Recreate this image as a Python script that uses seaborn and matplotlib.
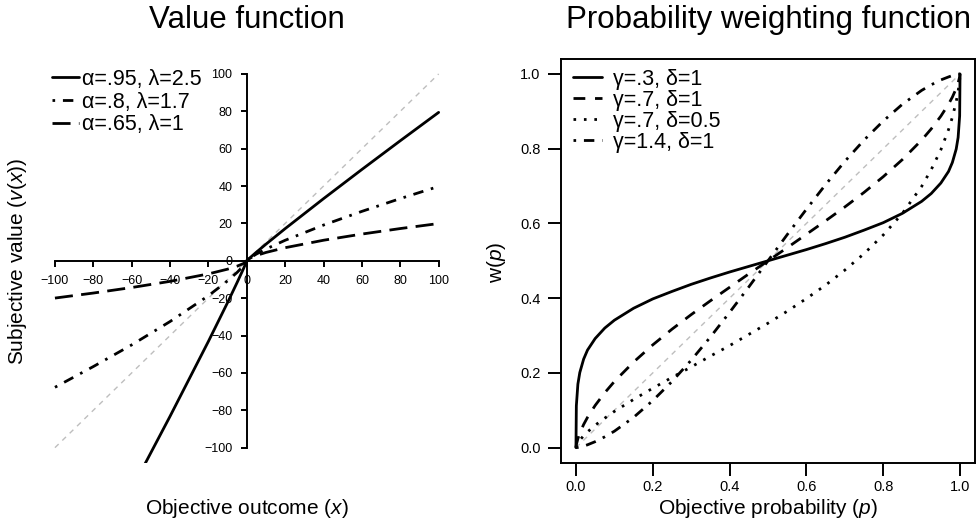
import seaborn as sns
import matplotlib.pyplot as plt
import pandas as pd

# Value function (left panel): outcomes and subjective values
outcome = [-100, -80, -60, -40, -20, -10, -5, -2, -1, 0, 1, 2, 5, 10, 20, 40, 60, 80, 100]
v_a95_l25 = [-198.6, -160.7, -122.2, -83.2, -43.1, -22.3, -11.5, -4.83, -2.5, 0,
             1.0, 1.93, 4.61, 8.91, 17.22, 33.26, 48.89, 64.26, 79.43]
v_a80_l17 = [-67.7, -56.6, -45.0, -32.5, -18.7, -10.7, -6.16, -2.96, -1.7, 0,
             1.0, 1.74, 3.62, 6.31, 10.99, 19.13, 26.46, 33.30, 39.81]
v_a65_l10 = [-19.95, -17.26, -14.31, -11.0, -7.01, -4.47, -2.85, -1.57, -1.0, 0,
             1.0, 1.57, 2.85, 4.47, 7.01, 11.0, 14.31, 17.26, 19.95]
value_labels = ['α=.95, λ=2.5', 'α=.8, λ=1.7', 'α=.65, λ=1']
value_ticks = [-100, -80, -60, -40, -20, 0, 20, 40, 60, 80, 100]

# Probability weighting function (right panel)
prob = [0, 0.001, 0.005, 0.01, 0.02, 0.03, 0.05, 0.075, 0.1, 0.15, 0.2, 0.25, 0.3, 0.35,
        0.4, 0.45, 0.5, 0.55, 0.6, 0.65, 0.7, 0.75, 0.8, 0.85, 0.9, 0.925, 0.95, 0.97,
        0.98, 0.99, 0.995, 0.999, 1]
w_g03_d1 = [0, 0.112, 0.170, 0.201, 0.237, 0.261, 0.292, 0.320, 0.341, 0.373, 0.398, 0.418,
            0.437, 0.454, 0.470, 0.485, 0.5, 0.515, 0.530, 0.546, 0.563, 0.582, 0.602, 0.627,
            0.659, 0.680, 0.708, 0.739, 0.763, 0.799, 0.830, 0.888, 1]
w_g07_d1 = [0, 0.008, 0.024, 0.039, 0.062, 0.081, 0.113, 0.147, 0.177, 0.229, 0.275, 0.317,
            0.356, 0.393, 0.429, 0.465, 0.5, 0.535, 0.571, 0.607, 0.644, 0.683, 0.725, 0.771,
            0.823, 0.853, 0.887, 0.919, 0.938, 0.961, 0.976, 0.992, 1]
w_g07_d05 = [0, 0.004, 0.012, 0.020, 0.032, 0.042, 0.060, 0.079, 0.097, 0.129, 0.159, 0.188,
             0.216, 0.245, 0.273, 0.303, 0.333, 0.365, 0.399, 0.435, 0.475, 0.519, 0.569, 0.627,
             0.699, 0.744, 0.797, 0.851, 0.884, 0.926, 0.953, 0.984, 1]
w_g14_d1 = [0, 0.0001, 0.0006, 0.0016, 0.0043, 0.0076, 0.016, 0.029, 0.044, 0.081, 0.126, 0.177,
            0.234, 0.296, 0.362, 0.430, 0.5, 0.570, 0.638, 0.704, 0.766, 0.823, 0.874, 0.919,
            0.956, 0.971, 0.984, 0.992, 0.9957, 0.9984, 0.9994, 0.9999, 1]
weight_labels = ['γ=.3, δ=1', 'γ=.7, δ=1', 'γ=.7, δ=0.5', 'γ=1.4, δ=1']
prob_ticks = [0, 0.2, 0.4, 0.6, 0.8, 1.0]

df_value = pd.DataFrame({'x': outcome, 'a95': v_a95_l25, 'a80': v_a80_l17, 'a65': v_a65_l10})
df_weight = pd.DataFrame({'p': prob, 'g03': w_g03_d1, 'g07': w_g07_d1,
                          'g07d': w_g07_d05, 'g14': w_g14_d1})

sns.set_theme(style='white')
plt.rcParams['font.family'] = ['Liberation Sans', 'DejaVu Sans']
plt.rcParams['mathtext.fontset'] = 'custom'
plt.rcParams['mathtext.rm'] = 'Liberation Sans'
plt.rcParams['mathtext.it'] = 'Liberation Sans:italic'
plt.rcParams['lines.scale_dashes'] = False
plt.rcParams['text.color'] = 'black'

# dash patterns (points), R-like
solid = '-'
longdash = (0, (13, 6))
dashed = (0, (8.5, 7))
dotted = (0, (1.9, 5.6))
dotdash = (0, (1.9, 5.6, 7.5, 5.6))
grey_dash = (0, (3.7, 3.7))
lw = 2.0

fig = plt.figure(figsize=(9.76, 5.25), dpi=100)
W, H = 976, 525
ax1 = fig.add_axes([39.6 / W, 1 - 462.6 / H, 414.4 / W, 403.6 / H])
ax2 = fig.add_axes([560.6 / W, 1 - 462.6 / H, 414.8 / W, 403.6 / H])

# ---- left: value function
sns.lineplot(x=[-100, 100], y=[-100, 100], ax=ax1, color='#BEBEBE', lw=1, linestyle=grey_dash)
h = []
for col, ls in zip(['a95', 'a80', 'a65'], [solid, dotdash, longdash]):
    sns.lineplot(data=df_value, x='x', y=col, ax=ax1, color='black', lw=lw, linestyle=ls,
                 estimator=None, sort=False)
    h.append(ax1.lines[-1])
ax1.set_xlim(-108, 108)
ax1.set_ylim(-108, 108)
for s in ['top', 'right']:
    ax1.spines[s].set_visible(False)
ax1.spines['left'].set_position(('data', 0))
ax1.spines['bottom'].set_position(('data', 0))
ax1.spines['left'].set_bounds(-100, 100)
ax1.spines['bottom'].set_bounds(-100, 100)
for s in ['left', 'bottom']:
    ax1.spines[s].set_linewidth(1.4)
    ax1.spines[s].set_color('black')
ax1.set_xticks(value_ticks)
ax1.set_yticks(value_ticks)
ax1.tick_params(direction='out', length=4, width=1.4, labelsize=9, pad=6.5,
                colors='black', left=True, bottom=True)
ax1.set_xlabel('')
ax1.set_ylabel('')
ax1.legend(h, value_labels, loc='upper left', bbox_to_anchor=(52 / W, 1 - 69 / H),
           bbox_transform=fig.transFigure, frameon=False, fontsize=15.5, borderpad=0,
           borderaxespad=0, handlelength=1.25, handletextpad=0.15, labelspacing=0.08)
fig.text(247 / W, 1 - 28 / H, 'Value function', fontsize=22.5, ha='center', va='baseline')

# ---- right: probability weighting function
sns.lineplot(x=[0, 1], y=[0, 1], ax=ax2, color='#BEBEBE', lw=1, linestyle=grey_dash)
h2 = []
for col, ls in zip(['g03', 'g07', 'g07d', 'g14'], [solid, dashed, dotted, dotdash]):
    sns.lineplot(data=df_weight, x='p', y=col, ax=ax2, color='black', lw=lw, linestyle=ls,
                 estimator=None, sort=False)
    h2.append(ax2.lines[-1])
ax2.set_xlim(-0.04, 1.04)
ax2.set_ylim(-0.04, 1.04)
for s in ax2.spines.values():
    s.set_linewidth(1.4)
    s.set_color('black')
ax2.set_xticks(prob_ticks)
ax2.set_yticks(prob_ticks)
ax2.tick_params(direction='out', length=9.4, width=1.4, labelsize=10.5, colors='black',
                left=True, bottom=True)
ax2.tick_params(axis='y', pad=5)
ax2.tick_params(axis='x', pad=3)
ax2.set_xlabel('')
ax2.set_ylabel('')
ax2.legend(h2, weight_labels, loc='upper left', bbox_to_anchor=(573 / W, 1 - 69 / H),
           bbox_transform=fig.transFigure, frameon=False, fontsize=15.5, borderpad=0,
           borderaxespad=0, handlelength=1.35, handletextpad=0.5, labelspacing=0.0)
fig.text(768 / W, 1 - 28 / H, 'Probability weighting function', fontsize=22.5,
         ha='center', va='baseline')

# axis titles
fig.text(18 / W, 1 - 261 / H, 'Subjective value ($v$($x$))', rotation=90, fontsize=15,
         ha='center', va='center')
fig.text(247 / W, 1 - 508 / H, 'Objective outcome ($x$)', fontsize=15, ha='center', va='center')
fig.text(497 / W, 1 - 262 / H, 'w($p$)', rotation=90, fontsize=15, ha='center', va='center')
fig.text(768 / W, 1 - 508 / H, 'Objective probability ($p$)', fontsize=15,
         ha='center', va='center')

plt.savefig('out.png', dpi=100)
